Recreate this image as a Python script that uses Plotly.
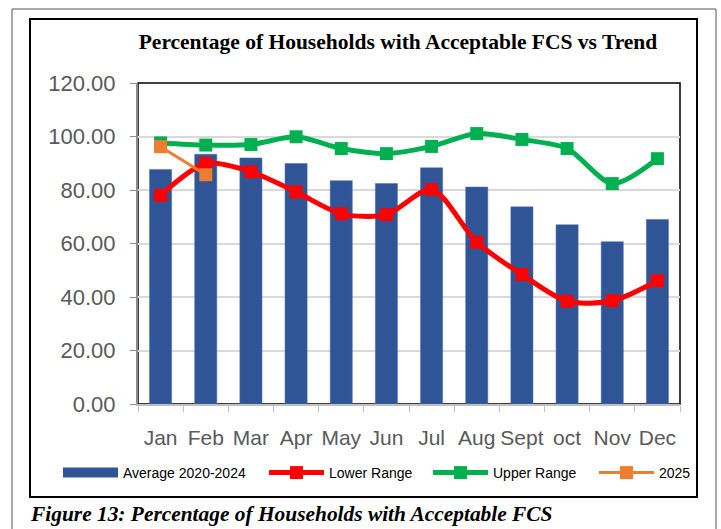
import plotly.graph_objects as go

months = ["Jan", "Feb", "Mar", "Apr", "May", "Jun", "Jul", "Aug", "Sept", "oct", "Nov", "Dec"]
average_2020_2024 = [87.7, 93.4, 92.0, 89.9, 83.5, 82.4, 88.3, 81.1, 73.7, 67.0, 60.7, 69.0]
lower_range = [78.0, 89.9, 86.8, 79.3, 71.1, 70.8, 80.2, 60.5, 48.4, 38.4, 38.6, 46.1]
upper_range = [97.6, 96.8, 97.0, 99.9, 95.5, 93.6, 96.3, 101.1, 98.9, 95.5, 82.4, 91.7]
y2025 = [96.2, 85.7, None, None, None, None, None, None, None, None, None, None]
y_ticks = [0, 20, 40, 60, 80, 100, 120]

W, H = 721, 529
L, R, T, B = 138, 680, 83, 404  # plot area in pixels

def px(x):
    return (x - L) / (R - L)

def py(y):
    return (B - y) / (B - T)

BLUE, RED, GREEN, ORANGE = "#2F5597", "#FF0000", "#00B050", "#ED7D31"

fig = go.Figure()
fig.add_trace(go.Bar(
    x=months, y=average_2020_2024, name="Average 2020-2024",
    marker=dict(color=BLUE, line=dict(color="#4A6FB0", width=0.5)),
    width=0.49, showlegend=False,
))
# legend proxy for the bar series (wide rectangle symbol)
fig.add_trace(go.Scatter(
    x=[None], y=[None], name="Average 2020-2024", mode="lines",
    line=dict(color=BLUE, width=10), legend="legend", hoverinfo="skip",
))
fig.add_trace(go.Scatter(
    x=months, y=lower_range, name="Lower Range", mode="lines+markers",
    line=dict(color=RED, width=5, shape="spline", smoothing=0.8),
    marker=dict(symbol="square", size=13, color=RED), legend="legend2",
))
fig.add_trace(go.Scatter(
    x=months, y=upper_range, name="Upper Range", mode="lines+markers",
    line=dict(color=GREEN, width=5, shape="spline", smoothing=0.8),
    marker=dict(symbol="square", size=13, color=GREEN), legend="legend3",
))
fig.add_trace(go.Scatter(
    x=months, y=y2025, name="2025", mode="lines+markers",
    line=dict(color=ORANGE, width=3),
    marker=dict(symbol="square", size=13, color=ORANGE), legend="legend4",
))

shapes = [
    dict(type="rect", xref="paper", yref="paper", x0=px(12), x1=px(716), y0=py(545), y1=py(9),
         line=dict(color="#555555", width=1), layer="below"),
    dict(type="rect", xref="paper", yref="paper", x0=px(30), x1=px(697), y0=py(497), y1=py(19),
         line=dict(color="#000000", width=2), layer="below"),
    dict(type="rect", xref="paper", yref="paper", x0=0, x1=1, y0=0, y1=1,
         line=dict(color="#000000", width=1.5), layer="below"),
]

def leg(xpix):
    return dict(
        orientation="h", xref="container", yref="container",
        x=xpix / W, y=1 - 473 / H, xanchor="left", yanchor="middle",
        font=dict(family="Liberation Sans", size=14, color="#000000"),
        itemwidth=55, bgcolor="rgba(0,0,0,0)", borderwidth=0,
    )

fig.update_layout(
    width=W, height=H,
    margin=dict(l=L, r=W - R, t=T, b=H - B, autoexpand=False),
    paper_bgcolor="white", plot_bgcolor="white",
    bargap=0.51,
    showlegend=True,
    title=dict(
        text="<b>Percentage of Households with Acceptable FCS vs Trend</b>",
        font=dict(family="Liberation Serif", size=21.5, color="#000000"),
        xref="container", yref="container", x=398 / W, y=1 - 41 / H,
        xanchor="center", yanchor="middle",
    ),
    legend=leg(58), legend2=leg(264), legend3=leg(428), legend4=leg(594),
    shapes=shapes,
    annotations=[
        dict(text="<b><i>Figure 13: Percentage of Households with Acceptable FCS</i></b>",
             xref="paper", yref="paper", x=px(28), y=py(514), xanchor="left", yanchor="middle",
             showarrow=False, font=dict(family="Liberation Serif", size=21.4, color="#000000")),
    ],
)

fig.update_yaxes(
    range=[0, 120], tickvals=y_ticks, tickformat=".2f", automargin=False,
    showgrid=True, gridcolor="#D9D9D9", gridwidth=1.5,
    showline=True, linecolor="#8C8C8C", linewidth=2,
    ticks="outside", ticklen=6, tickcolor="#8C8C8C",
    ticklabelstandoff=10,
    tickfont=dict(family="Liberation Sans", size=22, color="#595959"),
    zeroline=False,
)
fig.update_xaxes(
    type="category", range=[-0.5, 11.5], automargin=False, tickangle=0,
    showline=True, linecolor="#BFBFBF", linewidth=1.5,
    ticks="outside", tickson="boundaries", ticklen=6, tickcolor="#BFBFBF",
    ticklabelstandoff=14,
    tickfont=dict(family="Liberation Sans", size=21, color="#595959"),
    showgrid=False,
)

fig.write_html(
    "out.html",
    config={"displayModeBar": False},
    post_script="document.body.style.margin='0';document.body.style.overflow='hidden';",
)
